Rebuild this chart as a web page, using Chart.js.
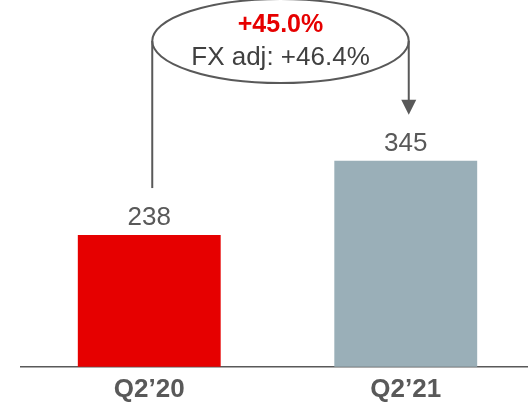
<!DOCTYPE html>
<html>
<head>
<meta charset="utf-8">
<script src="https://cdn.jsdelivr.net/npm/chart.js@4"></script>
<style>
  html, body { margin: 0; padding: 0; background: #fff; overflow: hidden; }
  #wrap { width: 536px; height: 404px; }
</style>
</head>
<body>
<div id="wrap"><canvas id="grafico"></canvas></div>
<script>
// Datos del gráfico
const categorias = ['Q2\u201920', 'Q2\u201921'];
const valores = [238, 345];
const colores = ['#e60000', '#9aafb8'];
const crecimiento = '+45.0%';
const crecimientoFx = 'FX adj: +46.4%';

const gris = '#595959';
const fuente = '"Liberation Sans", Arial, sans-serif';

// Etiquetas de valor encima de las barras + elipse con flechas
const anotaciones = {
    id: 'anotaciones',
    afterDatasetsDraw(chart) {
        const ctx = chart.ctx;
        const barras = chart.getDatasetMeta(0).data;
        ctx.save();
        ctx.fillStyle = gris;
        ctx.font = '26px ' + fuente;
        ctx.textAlign = 'center';
        ctx.textBaseline = 'alphabetic';
        barras.forEach(function(b, i) {
            ctx.fillText(String(valores[i]), b.x, b.y - 10);
        });

        // elipse
        const x1 = barras[0].x + 3;
        const x2 = barras[1].x + 3;
        const cx = (x1 + x2) / 2;
        const cy = 41;
        const rx = (x2 - x1) / 2;
        const ry = 42;
        ctx.strokeStyle = gris;
        ctx.lineWidth = 2;
        ctx.beginPath();
        ctx.ellipse(cx, cy, rx, ry, 0, 0, Math.PI * 2);
        ctx.stroke();

        // línea izquierda (desde la barra 1)
        ctx.beginPath();
        ctx.moveTo(x1, cy);
        ctx.lineTo(x1, barras[0].y - 47);
        ctx.stroke();

        // línea derecha con flecha hacia la barra 2
        const punta = barras[1].y - 46;
        ctx.beginPath();
        ctx.moveTo(x2, cy);
        ctx.lineTo(x2, punta - 14);
        ctx.stroke();
        ctx.fillStyle = gris;
        ctx.beginPath();
        ctx.moveTo(x2 - 7.5, punta - 15);
        ctx.lineTo(x2 + 7.5, punta - 15);
        ctx.lineTo(x2, punta);
        ctx.closePath();
        ctx.fill();

        // textos dentro de la elipse
        ctx.textBaseline = 'middle';
        ctx.fillStyle = '#e60000';
        ctx.font = 'bold 25px ' + fuente;
        ctx.fillText(crecimiento, cx, 25);
        ctx.fillStyle = '#404040';
        ctx.font = '26px ' + fuente;
        ctx.fillText(crecimientoFx, cx, 58);
        ctx.restore();
    }
};

document.addEventListener('DOMContentLoaded', function() {
    const ctx = document.getElementById('grafico').getContext('2d');
    new Chart(ctx, {
        type: 'bar',
        data: {
            labels: categorias,
            datasets: [{
                data: valores,
                backgroundColor: colores,
                borderWidth: 0,
                barPercentage: 0.557,
                categoryPercentage: 1.0
            }]
        },
        options: {
            responsive: true,
            maintainAspectRatio: false,
            animation: false,
            layout: {
                padding: { left: 21, right: 2, top: 0, bottom: 0 }
            },
            plugins: {
                legend: { display: false },
                tooltip: { enabled: false }
            },
            scales: {
                y: {
                    display: false,
                    min: 48,
                    max: 577
                },
                x: {
                    grid: { display: false },
                    border: { display: true, color: gris, width: 1.5 },
                    ticks: {
                        color: gris,
                        padding: -1,
                        font: { family: fuente, size: 26, weight: 'bold' }
                    }
                }
            }
        },
        plugins: [anotaciones]
    });
});
</script>
</body>
</html>
